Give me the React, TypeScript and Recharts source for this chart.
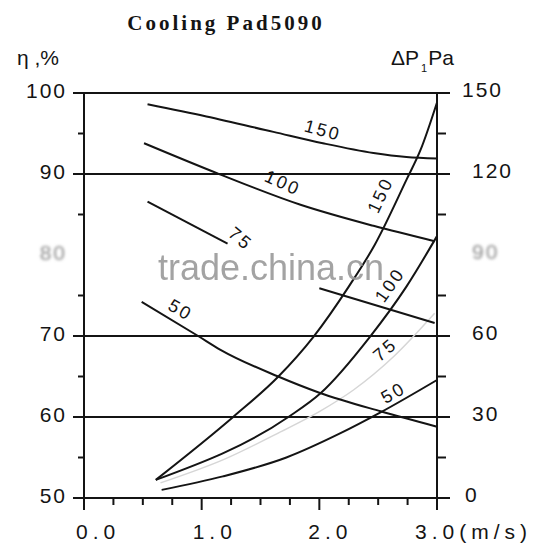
import React from 'react';
import { ComposedChart, Line, XAxis, YAxis, ReferenceLine, ReferenceDot } from 'recharts';

const INK = '#141414';
const FONT = '"Liberation Sans", Arial, sans-serif';

// axes
const xTicks = [0, 0.25, 0.5, 0.75, 1, 1.25, 1.5, 1.75, 2, 2.25, 2.5, 2.75, 3];
const etaTicks = [50, 55, 60, 65, 70, 75, 80, 85, 90, 95, 100];
const dpTicks = [0, 15, 30, 45, 60, 75, 90, 105, 120, 135, 150];
const etaGrid = [90, 70, 60];
const blurredEta = [80];
const blurredDp = [90];

// efficiency η (%) vs face velocity (m/s), per pad thickness (mm)
const eff150 = [[0.54, 98.6], [1.04, 97.1], [1.61, 95.2], [2.03, 93.8], [2.46, 92.6], [2.74, 92.1], [3.0, 91.9]];
const eff100 = [[0.51, 93.8], [1.13, 90.1], [1.84, 86.2], [2.46, 83.6], [2.98, 81.7]];
const eff75a = [[0.54, 86.6], [1.22, 81.4]];
const eff75b = [[2.0, 75.9], [2.98, 71.6]];
const eff50 = [[0.49, 74.2], [0.97, 70.0], [1.16, 68.3], [1.65, 65.0], [2.0, 63.0], [2.52, 60.7], [3.0, 58.8]];

// pressure drop ΔP (Pa) vs face velocity (m/s), per pad thickness (mm)
const dp150 = [[0.61, 6.7], [1.27, 30.1], [1.65, 44.9], [1.95, 59.7], [2.25, 78.3], [2.47, 93.7], [2.74, 117.8], [2.86, 128.9], [3.0, 146.5]];
const dp100 = [[0.61, 6.7], [1.74, 30.1], [2.01, 38.8], [2.43, 59.7], [2.74, 78.3], [3.0, 97.0]];
const dp75 = [[0.65, 5.6], [1.2, 14.5], [1.67, 24.5], [2.0, 32.0], [2.29, 40.0], [2.63, 52.3], [2.98, 68.4]];
const dp50 = [[0.66, 3.0], [1.18, 8.0], [1.72, 15.0], [2.18, 24.0], [2.52, 31.7], [3.0, 43.7]];

// curve labels: [text, velocity, η position, angle]
const curveLabels: [string, number, number, number][] = [
  ['150', 2.03, 95.4, 15],
  ['100', 1.69, 88.9, 24],
  ['75', 1.33, 82.0, 40],
  ['50', 0.82, 73.2, 30],
  ['150', 2.52, 87.4, -65],
  ['100', 2.6, 76.3, -55],
  ['75', 2.56, 68.3, -40],
  ['50', 2.63, 63.0, -30],
];

const toPts = (arr: number[][]) => arr.map(([x, y]) => ({ x, y }));

const xLabelDx: Record<string, number> = { '0': -8, '1': -9, '2': -11, '3': -22 };

function XTick(props: any) {
  const { x, y, payload } = props;
  const v = payload.value as number;
  const major = Number.isInteger(v);
  return (
    <g>
      <line x1={x} x2={x} y1={y} y2={y + (major ? 12 : 7)} stroke={INK} strokeWidth={2} />
      {major && (
        <text x={x + xLabelDx[String(v)]} y={y + 41} fontSize={21} letterSpacing={5} fontFamily={FONT} fill={INK}>
          {v.toFixed(1) + (v === 3 ? '(m/s)' : '')}
        </text>
      )}
    </g>
  );
}

function LeftTick(props: any) {
  const { x, y, payload } = props;
  const v = payload.value as number;
  const major = v % 10 === 0;
  const blurred = blurredEta.includes(v);
  return (
    <g>
      {!blurred && <line x1={x - (major ? 11 : 6)} x2={x} y1={y} y2={y} stroke={INK} strokeWidth={2} />}
      {major && (
        <text
          x={x - 17}
          y={y + 5}
          textAnchor="end"
          fontSize={21}
          letterSpacing={2}
          fontFamily={FONT}
          fill={blurred ? '#8c8c8c' : INK}
          filter={blurred ? 'url(#wmBlur)' : undefined}
        >
          {v}
        </text>
      )}
    </g>
  );
}

function RightTick(props: any) {
  const { x, y, payload } = props;
  const v = payload.value as number;
  const major = v % 30 === 0;
  const blurred = blurredDp.includes(v);
  const dx = v === 150 ? 25 : v === 0 ? 28 : 35;
  return (
    <g>
      {!blurred && <line x1={x} x2={x + (major ? 13 : 9)} y1={y} y2={y} stroke={INK} strokeWidth={2} />}
      {major && (
        <text
          x={x + dx}
          y={y + 4}
          fontSize={21}
          letterSpacing={2}
          fontFamily={FONT}
          fill={blurred ? '#8c8c8c' : INK}
          filter={blurred ? 'url(#wmBlur)' : undefined}
        >
          {v}
        </text>
      )}
    </g>
  );
}

const makeLabel = (text: string, angle: number) => (p: any) => {
  const vb = p.viewBox || {};
  const cx = (vb.x ?? 0) + (vb.width ?? 0) / 2;
  const cy = (vb.y ?? 0) + (vb.height ?? 0) / 2;
  return (
    <text
      x={cx}
      y={cy}
      textAnchor="middle"
      dominantBaseline="central"
      transform={`rotate(${angle} ${cx} ${cy})`}
      fontSize={18}
      letterSpacing={2.5}
      fontFamily={FONT}
      fill={INK}
    >
      {text}
    </text>
  );
};

const lineProps = {
  type: 'monotone' as const,
  dataKey: 'y',
  dot: false,
  activeDot: false,
  stroke: INK,
  strokeWidth: 2,
  isAnimationActive: false,
};

export default function App() {
  return (
    <div style={{ position: 'absolute', left: 0, top: 0, width: 542, height: 557, background: '#fff' }}>
      <ComposedChart width={542} height={557} margin={{ top: 93, right: 0, bottom: 0, left: 0 }}>
        <XAxis
          type="number"
          dataKey="x"
          domain={[0, 3]}
          ticks={xTicks}
          interval={0}
          height={59}
          tickLine={false}
          tickSize={0}
          tickMargin={0}
          axisLine={{ stroke: INK, strokeWidth: 2 }}
          tick={<XTick />}
        />
        <YAxis
          yAxisId="left"
          type="number"
          domain={[50, 100]}
          ticks={etaTicks}
          interval={0}
          width={84}
          tickLine={false}
          tickSize={0}
          tickMargin={0}
          axisLine={{ stroke: INK, strokeWidth: 2 }}
          tick={<LeftTick />}
        />
        <YAxis
          yAxisId="right"
          orientation="right"
          type="number"
          domain={[0, 150]}
          ticks={dpTicks}
          interval={0}
          width={105}
          tickLine={false}
          tickSize={0}
          tickMargin={0}
          axisLine={{ stroke: INK, strokeWidth: 2 }}
          tick={<RightTick />}
        />
        <ReferenceLine yAxisId="left" y={100} stroke={INK} strokeWidth={2} />
        {etaGrid.map((g) => (
          <ReferenceLine key={g} yAxisId="left" y={g} stroke={INK} strokeWidth={2} />
        ))}

        <Line {...lineProps} yAxisId="right" data={toPts(dp75)} stroke="#d6d6d6" strokeWidth={1.5} />
        <Line {...lineProps} yAxisId="left" data={toPts(eff150)} />
        <Line {...lineProps} yAxisId="left" data={toPts(eff100)} />
        <Line {...lineProps} yAxisId="left" data={toPts(eff75a)} />
        <Line {...lineProps} yAxisId="left" data={toPts(eff75b)} />
        <Line {...lineProps} yAxisId="left" data={toPts(eff50)} />
        <Line {...lineProps} yAxisId="right" data={toPts(dp150)} />
        <Line {...lineProps} yAxisId="right" data={toPts(dp100)} />
        <Line {...lineProps} yAxisId="right" data={toPts(dp50)} />

        {curveLabels.map(([t, x, y, a], i) => (
          <ReferenceDot
            key={i}
            yAxisId="left"
            x={x}
            y={y}
            r={1}
            fill="none"
            stroke="none"
            label={makeLabel(t, a)}
          />
        ))}
      </ComposedChart>
      <svg
        width={542}
        height={557}
        style={{ position: 'absolute', left: 0, top: 0, pointerEvents: 'none' }}
      >
        <defs>
          <filter id="wmBlur" x="-20%" y="-20%" width="140%" height="140%">
            <feGaussianBlur stdDeviation="1.6" />
          </filter>
        </defs>
        <text x={226} y={30} textAnchor="middle" fontSize={21} fontWeight="bold" letterSpacing={3}
          fontFamily='"Liberation Serif", "Times New Roman", serif' fill={INK}>
          Cooling Pad5090
        </text>
        <text x={17} y={65} fontSize={21} fontFamily={FONT} fill={INK}>η ,%</text>
        <text x={391} y={65} fontSize={21} fontFamily={FONT} fill={INK}>
          ΔP<tspan fontSize={11} dy={7} dx={2}>1</tspan><tspan dy={-7} dx={1}>Pa</tspan>
        </text>
        <text x={158} y={280} fontSize={36} fontFamily={FONT} fill="#9a9a9a" opacity={0.9}>
          trade.china.cn
        </text>
      </svg>
    </div>
  );
}
